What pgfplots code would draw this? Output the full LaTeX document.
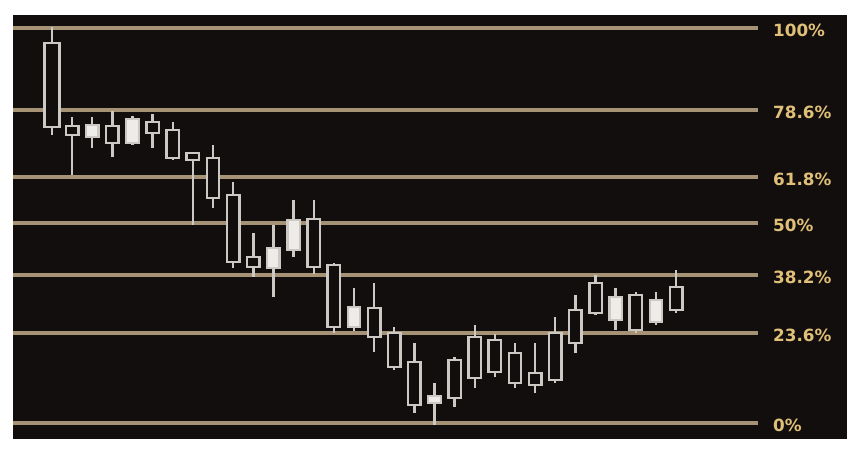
\documentclass[border=0pt]{standalone}
\usepackage{fontspec}
\setsansfont{DejaVu Sans}
\usepackage{pgfplots}
\pgfplotsset{compat=1.18}
\usepgfplotslibrary{statistics}
\usetikzlibrary{calc}

\definecolor{panel}{RGB}{18,14,13}
\definecolor{fibline}{RGB}{166,146,116}
\definecolor{fibtext}{RGB}{224,192,120}
\definecolor{wick}{RGB}{204,200,196}
\definecolor{solid}{RGB}{238,236,233}

\pgfplotsset{
	candle/.style = {
		draw = wick,
		line width = 1.2pt,
		boxplot/draw direction = y,
		boxplot/whisker extend = 0,
		boxplot/box extend = 0.62,
	},
}

% position, low, body bottom, body top, high, body fill
\newcommand{\candle}[6]{%
	\addplot[candle, fill=#6, boxplot prepared={draw position=#1,
		lower whisker=#2, lower quartile=#3, median=#3,
		upper quartile=#4, upper whisker=#5}] coordinates {};
}

% level value, label
\newcommand{\level}[2]{%
	\addplot[fibline, line width=1.9pt] coordinates {(-0.937,#1) (36.07,#1)};
	\node[anchor=west, inner sep=0pt, yshift=-1.2pt, text=fibtext,
		font=\sffamily\bfseries\fontsize{8.4}{10}\selectfont]
		at (axis cs:36.8,#1) {#2};
}

\begin{document}
\begin{tikzpicture}
	\begin{axis}[
		scale only axis,
		width = 417pt, height = 212pt,
		xmin = -0.937, xmax = 40.49,
		ymin = -16, ymax = 408,
		axis line style = {draw=none},
		xtick = \empty, ytick = \empty,
		axis background/.style = {fill=panel},
	]
		\level{395}{100\%}
		\level{313}{78.6\%}
		\level{246}{61.8\%}
		\level{200}{50\%}
		\level{148}{38.2\%}
		\level{90}{23.6\%}
		\level{0}{0\%}

		\addplot[candle, boxplot/box extend=0.74, fill=panel, boxplot prepared={draw position=1,
			lower whisker=288, lower quartile=296, median=296,
			upper quartile=380, upper whisker=396}] coordinates {};
		\candle{2}{248}{288}{297}{306}{panel}
		\candle{3}{275}{286}{298}{306}{solid}
		\candle{4}{266}{280}{297}{312}{panel}
		\candle{5}{278}{280}{304}{307}{solid}
		\candle{6}{275}{290}{301}{309}{panel}
		\candle{7}{263}{265}{293}{301}{panel}
		\candle{8}{198}{263}{270}{271}{panel}
		\candle{9}{215}{225}{265}{278}{panel}
		\candle{10}{155}{161}{228}{241}{panel}
		\candle{11}{146}{156}{166}{190}{panel}
		\candle{12}{126}{155}{175}{198}{solid}
		\candle{13}{166}{173}{203}{223}{solid}
		\candle{14}{149}{156}{204}{223}{panel}
		\candle{15}{90}{96}{158}{160}{panel}
		\candle{16}{92}{96}{116}{135}{solid}
		\candle{17}{71}{86}{115}{140}{panel}
		\candle{18}{53}{56}{90}{96}{panel}
		\candle{19}{10}{18}{61}{80}{panel}
		\candle{20}{-2}{20}{27}{40}{solid}
		\candle{21}{16}{25}{63}{66}{panel}
		\candle{22}{35}{45}{86}{98}{panel}
		\candle{23}{46}{51}{83}{89}{panel}
		\candle{24}{35}{40}{70}{80}{panel}
		\candle{25}{30}{38}{50}{80}{panel}
		\candle{26}{40}{43}{90}{106}{panel}
		\candle{27}{70}{80}{113}{128}{panel}
		\candle{28}{108}{110}{140}{148}{panel}
		\candle{29}{93}{103}{126}{135}{solid}
		\candle{30}{90}{93}{128}{131}{panel}
		\candle{31}{98}{101}{123}{131}{solid}
		\candle{32}{110}{113}{136}{153}{panel}
	\end{axis}
	\path ($(current axis.south west)+(-6.5pt,-7pt)$)
		rectangle ($(current axis.north east)+(10pt,7.5pt)$);
\end{tikzpicture}
\end{document}
